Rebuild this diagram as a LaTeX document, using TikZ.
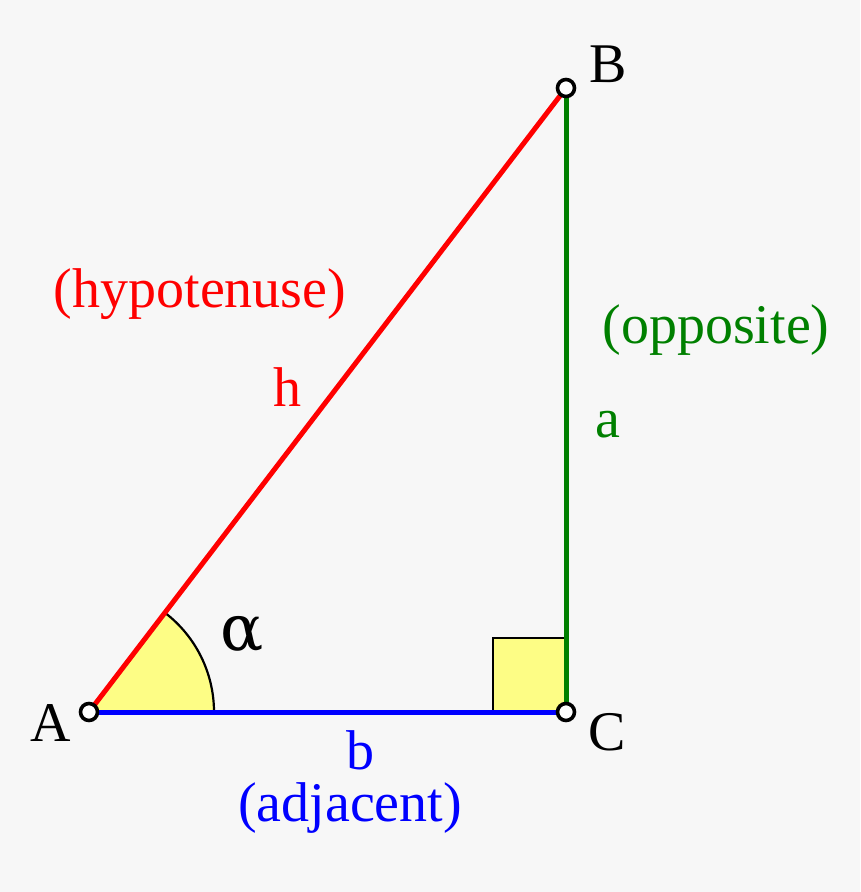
\documentclass[tikz,border=0pt]{standalone}
\usepackage{fontspec}
\setmainfont{Liberation Serif}
\newfontfamily\alphafont{DejaVu Serif}
\definecolor{angfill}{RGB}{253,253,133}
\definecolor{oppgreen}{RGB}{0,128,0}
\definecolor{bg}{RGB}{247,247,247}
\begin{document}
\begin{tikzpicture}[x=1pt,y=-1pt,
  lbl/.style={font=\fontsize{56}{60}\selectfont, inner sep=0pt},
  side/.style={line width=5pt},
  vtx/.style={circle, draw=black, fill=white, line width=3.6pt, minimum size=17pt, inner sep=0pt}]
\fill[bg] (0,0) rectangle (860,892);
\useasboundingbox (0,0) rectangle (860,892);
\coordinate (A) at (89,712);
\coordinate (B) at (566,88);
\coordinate (C) at (566,712);
% angle
\fill[angfill] (A) -- ++(125,0) arc[start angle=0, end angle=-52.6, radius=125] -- cycle;
\draw[line width=2.2pt] (A) ++(125,0) arc[start angle=0, end angle=-52.6, radius=125];
% right angle square
\fill[angfill] (493,638) rectangle (566,712);
\draw[line width=2.2pt] (566,638) -- (493,638) -- (493,712);
% sides
\draw[side, red] (A) -- (B);
\draw[side, oppgreen] (B) -- (C);
\draw[side, blue] (A) -- (C);
\node[vtx] (vA) at (A) {};
\node[vtx] (vB) at (B) {};
\node[vtx] (vC) at (C) {};
% labels
\node[lbl] (lB) at (608,64) {B};
\node[lbl] (lA) at (51,723) {A};
\node[lbl] (lC) at (607,732) {C};
\node[lbl, red] (hyp) at (200,294) {(hypotenuse)};
\node[lbl, red] (h) at (287,387) {h};
\node[lbl, oppgreen] (opp) at (716,330) {(opposite)};
\node[lbl, oppgreen] (a) at (608,425) {a};
\node[lbl, blue] (b) at (360,750) {b};
\node[lbl, blue] (adj) at (350,808) {(adjacent)};
\node[inner sep=0pt, font=\alphafont\fontsize{64}{70}\selectfont] (alpha) at (242,634) {α};
\end{tikzpicture}
\end{document}
